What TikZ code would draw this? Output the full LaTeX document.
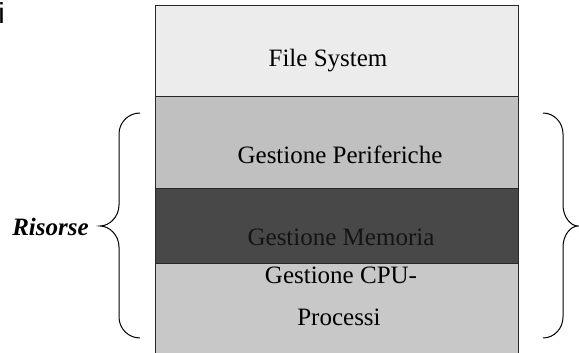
\documentclass[tikz,border=0pt]{standalone}
\usepackage{fontspec}
\setmainfont{Liberation Serif}
\newfontfamily\arialfont{Liberation Sans}
\usepackage{xcolor}

\definecolor{fsgray}{RGB}{236,236,236}
\definecolor{perigray}{RGB}{192,192,192}
\definecolor{memgray}{RGB}{72,72,72}
\definecolor{cpugray}{RGB}{200,200,200}
\definecolor{edgegray}{RGB}{40,40,40}

\begin{document}
\begin{tikzpicture}[x=0.75pt,y=0.75pt,yscale=-1,xscale=1,
    layertext/.style={anchor=base,inner sep=0.75pt,font=\fontsize{18.75}{22}\selectfont}]
    \useasboundingbox (0,0) rectangle (579,353);

    %Shape: Rectangle [id:fsbox]
    \draw [color=edgegray, fill=fsgray, line width=0.75] (155,6) rectangle (518,97) ;
    %Shape: Rectangle [id:peribox]
    \draw [color=edgegray, fill=perigray, line width=0.75] (155,97) rectangle (518,188) ;
    %Shape: Rectangle [id:membox]
    \draw [color=edgegray, fill=memgray, line width=0.75] (155,188) rectangle (518,263) ;
    %Shape: Rectangle [id:cpubox]
    \fill [cpugray] (155,263) rectangle (518,353) ;
    \draw [color=edgegray, line width=0.75] (155,353) -- (155,263) -- (518,263) -- (518,353) ;

    %Shape: Brace [id:leftbrace]
    \draw [line width=0.75] (140,113) .. controls (128.4,113) and (119,122.4) .. (119,134) -- (119,205) .. controls (119,216.6) and (109.6,226) .. (100,226) .. controls (109.6,226) and (119,235.4) .. (119,247) -- (119,317) .. controls (119,328.6) and (128.4,338) .. (140,338) ;
    %Shape: Brace [id:rightbrace]
    \draw [line width=0.75] (543,113) .. controls (554,113) and (563,122.4) .. (563,134) -- (563,205) .. controls (563,216.6) and (570.4,226) .. (578,226) .. controls (570.4,226) and (563,235.4) .. (563,247) -- (563,317) .. controls (563,328.6) and (554,338) .. (543,338) ;

    % Text Node
    \draw (328,67) node [layertext] (fs) {File System};
    % Text Node
    \draw (340,163) node [layertext] (peri) {Gestione Periferiche};
    % Text Node
    \draw (341,245) node [layertext, text={rgb,255:red,20;green,20;blue,20}] (mem) {Gestione Memoria};
    % Text Node
    \draw (341,283) node [layertext] (cpu) {Gestione CPU-};
    % Text Node
    \draw (339,325) node [layertext] (proc) {Processi};
    % Text Node
    \draw (50.5,235) node [layertext, font=\fontsize{18.75}{22}\selectfont\bfseries\itshape] (risorse) {Risorse};
    % Text Node
    \draw (-2,24) node [anchor=base west, inner sep=0pt, font=\fontsize{21.75}{24}\selectfont\arialfont] (frag) {i};

\end{tikzpicture}
\end{document}
